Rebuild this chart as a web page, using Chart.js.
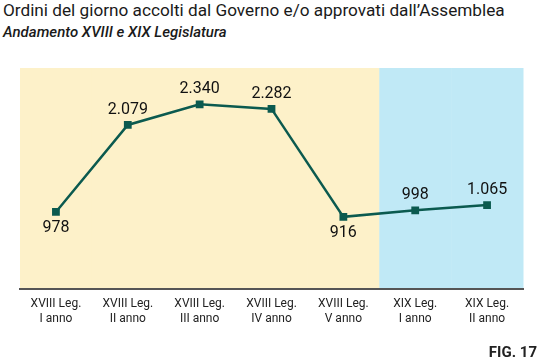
<!DOCTYPE html>
<html lang="it">
<head>
    <meta charset="UTF-8">
    <title>Ordini del giorno accolti</title>
    <script src="https://cdn.jsdelivr.net/npm/chart.js"></script>
    <style>
        body {
            margin: 0;
            background-color: #fff;
            font-family: Roboto, Arial, sans-serif;
            width: 541px;
            height: 363px;
            overflow: hidden;
            position: relative;
        }
        #title {
            position: absolute;
            left: 3px;
            top: 0px;
            font-size: 17.2px;
            color: #1a1a1a;
            white-space: nowrap;
        }
        #subtitle {
            position: absolute;
            left: 3px;
            top: 23px;
            font-size: 15px;
            font-style: italic;
            font-weight: 500;
            color: #1a1a1a;
            white-space: nowrap;
        }
        #fig {
            position: absolute;
            right: 4px;
            top: 343px;
            font-size: 15px;
            font-weight: bold;
            color: #222;
        }
        #chartBox {
            position: absolute;
            left: 0;
            top: 0;
            width: 541px;
            height: 363px;
        }
    </style>
</head>
<body>
    <div id="title">Ordini del giorno accolti dal Governo e/o approvati dall’Assemblea</div>
    <div id="subtitle">Andamento XVIII e XIX Legislatura</div>
    <div id="chartBox"><canvas id="chart" width="541" height="363"></canvas></div>
    <div id="fig">FIG. 17</div>

    <script>
        // categories (two-line labels)
        const categories = [
            ['XVIII Leg.', 'I anno'],
            ['XVIII Leg.', 'II anno'],
            ['XVIII Leg.', 'III anno'],
            ['XVIII Leg.', 'IV anno'],
            ['XVIII Leg.', 'V anno'],
            ['XIX Leg.', 'I anno'],
            ['XIX Leg.', 'II anno']
        ];

        // values
        const values = [978, 2079, 2340, 2282, 916, 998, 1065];

        // which labels go under the point
        const labelBelow = [true, false, false, false, true, false, false];

        // legislature of each category, used for the background bands
        const legislature = ['XVIII', 'XVIII', 'XVIII', 'XVIII', 'XVIII', 'XIX', 'XIX'];
        const bandColors = { XVIII: '#fdf1c9', XIX: '#c0e9f6' };

        const lineColor = '#0b5a4f';

        // italian number format: 2.079
        function fmt(v) {
            return v.toString().replace(/\B(?=(\d{3})+(?!\d))/g, '.');
        }

        // background bands behind the chart area
        const bandsPlugin = {
            id: 'bands',
            beforeDraw(chart) {
                const { ctx, chartArea, scales } = chart;
                const x = scales.x;
                ctx.save();
                for (let i = 0; i < legislature.length; i++) {
                    const left = i === 0 ? chartArea.left : x.getPixelForValue(i - 0.5);
                    const right = i === legislature.length - 1 ? chartArea.right : x.getPixelForValue(i + 0.5);
                    ctx.fillStyle = bandColors[legislature[i]];
                    ctx.fillRect(left, chartArea.top, right - left + 0.5, chartArea.bottom - chartArea.top);
                }
                ctx.restore();
            }
        };

        // value labels next to the points
        const valueLabels = {
            id: 'valueLabels',
            afterDatasetsDraw(chart) {
                const { ctx } = chart;
                const meta = chart.getDatasetMeta(0);
                ctx.save();
                ctx.font = '16px Roboto, Arial, sans-serif';
                ctx.fillStyle = '#111';
                ctx.textAlign = 'center';
                ctx.textBaseline = 'middle';
                meta.data.forEach((pt, i) => {
                    const dy = labelBelow[i] ? 16 : -15;
                    ctx.fillText(fmt(values[i]), pt.x, pt.y + dy);
                });
                ctx.restore();
            }
        };

        const ctx = document.getElementById('chart').getContext('2d');
        new Chart(ctx, {
            type: 'line',
            data: {
                labels: categories,
                datasets: [{
                    data: values,
                    borderColor: lineColor,
                    backgroundColor: lineColor,
                    borderWidth: 2.5,
                    pointStyle: 'rect',
                    pointRadius: 5.5,
                    pointHoverRadius: 5.5,
                    pointBorderWidth: 0,
                    tension: 0,
                    fill: false
                }]
            },
            options: {
                responsive: false,
                animation: false,
                layout: {
                    padding: { left: 20, right: 18, top: 68, bottom: 29 }
                },
                plugins: {
                    legend: { display: false },
                    tooltip: { enabled: false }
                },
                scales: {
                    x: {
                        offset: true,
                        grid: { display: false, drawTicks: false },
                        border: { display: true, color: '#555', width: 2 },
                        ticks: {
                            padding: 8,
                            color: '#222',
                            font: { family: 'Roboto, Arial, sans-serif', size: 12 },
                            maxRotation: 0,
                            autoSkip: false
                        }
                    },
                    y: {
                        display: false,
                        min: 0,
                        max: 2800
                    }
                }
            },
            plugins: [bandsPlugin, valueLabels]
        });
    </script>
</body>
</html>
